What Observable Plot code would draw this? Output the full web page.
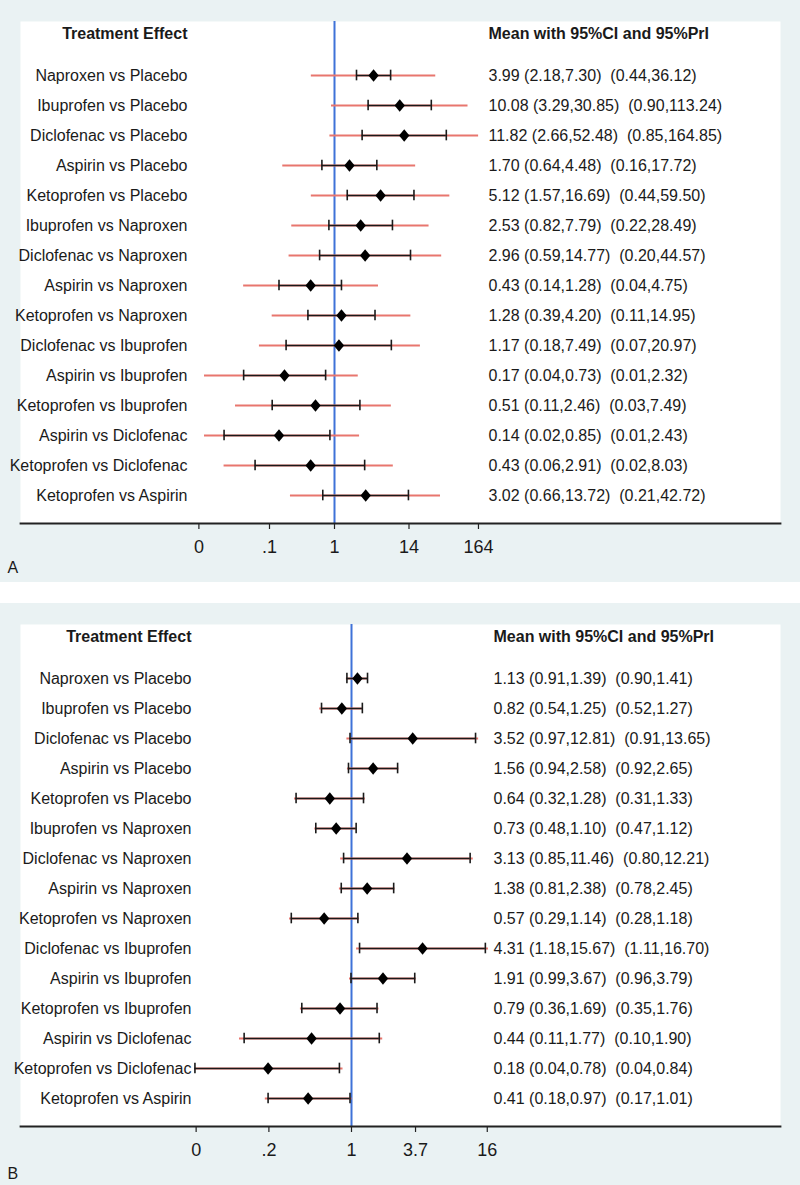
<!DOCTYPE html>
<html>
<head>
<meta charset="utf-8">
<script src="https://cdn.jsdelivr.net/npm/d3@7"></script>
<script src="https://cdn.jsdelivr.net/npm/@observablehq/plot@0.6"></script>
<style>
  body { margin: 0; background: #ffffff; }
  #wrap { width: 800px; }
  .gap { height: 21px; background: #ffffff; }
  svg { display: block; }
</style>
</head>
<body>
<div id="wrap">
  <div id="panelA"></div>
  <div class="gap"></div>
  <div id="panelB"></div>
</div>
<script>
// ---- Data ----
const comparisons = [
  "Naproxen vs Placebo", "Ibuprofen vs Placebo", "Diclofenac vs Placebo",
  "Aspirin vs Placebo", "Ketoprofen vs Placebo", "Ibuprofen vs Naproxen",
  "Diclofenac vs Naproxen", "Aspirin vs Naproxen", "Ketoprofen vs Naproxen",
  "Diclofenac vs Ibuprofen", "Aspirin vs Ibuprofen", "Ketoprofen vs Ibuprofen",
  "Aspirin vs Diclofenac", "Ketoprofen vs Diclofenac", "Ketoprofen vs Aspirin"
];

// Panel A
const meanA = [3.99, 10.08, 11.82, 1.70, 5.12, 2.53, 2.96, 0.43, 1.28, 1.17, 0.17, 0.51, 0.14, 0.43, 3.02];
const ciLoA = [2.18, 3.29, 2.66, 0.64, 1.57, 0.82, 0.59, 0.14, 0.39, 0.18, 0.04, 0.11, 0.02, 0.06, 0.66];
const ciHiA = [7.30, 30.85, 52.48, 4.48, 16.69, 7.79, 14.77, 1.28, 4.20, 7.49, 0.73, 2.46, 0.85, 2.91, 13.72];
const prLoA = [0.44, 0.90, 0.85, 0.16, 0.44, 0.22, 0.20, 0.04, 0.11, 0.07, 0.01, 0.03, 0.01, 0.02, 0.21];
const prHiA = [36.12, 113.24, 164.85, 17.72, 59.50, 28.49, 44.57, 4.75, 14.95, 20.97, 2.32, 7.49, 2.43, 8.03, 42.72];
const ticksA = [0.0082, 0.1, 1, 14, 164];
const tickLabelsA = ["0", ".1", "1", "14", "164"];

// Panel B
const meanB = [1.13, 0.82, 3.52, 1.56, 0.64, 0.73, 3.13, 1.38, 0.57, 4.31, 1.91, 0.79, 0.44, 0.18, 0.41];
const ciLoB = [0.91, 0.54, 0.97, 0.94, 0.32, 0.48, 0.85, 0.81, 0.29, 1.18, 0.99, 0.36, 0.11, 0.04, 0.18];
const ciHiB = [1.39, 1.25, 12.81, 2.58, 1.28, 1.10, 11.46, 2.38, 1.14, 15.67, 3.67, 1.69, 1.77, 0.78, 0.97];
const prLoB = [0.90, 0.52, 0.91, 0.92, 0.31, 0.47, 0.80, 0.78, 0.28, 1.11, 0.96, 0.35, 0.10, 0.04, 0.17];
const prHiB = [1.41, 1.27, 13.65, 2.65, 1.33, 1.12, 12.21, 2.45, 1.18, 16.70, 3.79, 1.76, 1.90, 0.84, 1.01];
const ticksB = [0.041, 0.183, 1, 3.73, 16.3];
const tickLabelsB = ["0", ".2", "1", "3.7", "16"];

const headerLeft = "Treatment Effect";
const headerRight = "Mean with 95%CI and 95%PrI";

// ---- Drawing ----
const FONT = "'Liberation Sans', Arial, Helvetica, sans-serif";
const BG = "#eaf2f3";
const RED = "#e8766e";
const BLUE = "#3f72d8";
const INK = "#1a1a1a";

const diamond = {
  draw(context, size) {
    const r = Math.sqrt(size / Math.PI);
    const w = r, h = r * 1.2;
    context.moveTo(0, -h);
    context.lineTo(w, 0);
    context.lineTo(0, h);
    context.lineTo(-w, 0);
    context.closePath();
  }
};

const f2 = (v) => v.toFixed(2);

function panel(opt) {
  const {mean, ciLo, ciHi, prLo, prHi, ticks, tickLabels, one, perDecade, labelRight, valueLeft, letter} = opt;
  const W = 800, H = 582, mL = 20, mR = 20, mT = 21, mB = 59;
  const firstRow = 72, lastRow = 497;
  const step = (lastRow - firstRow) / (comparisons.length - 1);
  const capInset = (step - 11) / 2;
  const rows = comparisons.map((name, i) => ({
    name, mean: mean[i], ciLo: ciLo[i], ciHi: ciHi[i], prLo: prLo[i], prHi: prHi[i],
    label: `${f2(mean[i])} (${f2(ciLo[i])},${f2(ciHi[i])})\u00a0 (${f2(prLo[i])},${f2(prHi[i])})`
  }));
  const tickRows = ticks.map((t, i) => ({value: t, label: tickLabels[i]}));
  return Plot.plot({
    width: W, height: H,
    marginLeft: mL, marginRight: mR, marginTop: mT, marginBottom: mB,
    style: {background: BG, fontFamily: FONT, fontSize: "16px", color: INK},
    x: {type: "log", domain: [10 ** ((mL - one) / perDecade), 10 ** ((W - mR - one) / perDecade)]},
    y: {type: "band", domain: comparisons, range: [firstRow - step / 2, lastRow + step / 2], padding: 0, axis: null},
    marks: [
      Plot.frame({fill: "white", stroke: "none"}),
      Plot.ruleX([1], {stroke: BLUE, strokeWidth: 2}),
      Plot.ruleY(rows, {y: "name", x1: "prLo", x2: "prHi", stroke: RED, strokeWidth: 2}),
      Plot.ruleY(rows, {y: "name", x1: "ciLo", x2: "ciHi", stroke: INK, strokeWidth: 1.6}),
      Plot.tickX(rows, {x: "ciLo", y: "name", stroke: INK, strokeWidth: 1.6, insetTop: capInset, insetBottom: capInset}),
      Plot.tickX(rows, {x: "ciHi", y: "name", stroke: INK, strokeWidth: 1.6, insetTop: capInset, insetBottom: capInset}),
      Plot.dot(rows, {x: "mean", y: "name", symbol: diamond, r: 5.2, fill: "black", stroke: "none"}),
      Plot.text(rows, {y: "name", text: "name", frameAnchor: "left", textAnchor: "end", dx: labelRight - mL, fontSize: 16, fill: INK}),
      Plot.text(rows, {y: "name", text: "label", frameAnchor: "left", textAnchor: "start", dx: valueLeft - mL, fontSize: 16, fill: INK}),
      Plot.text([headerLeft], {frameAnchor: "top-left", lineAnchor: "middle", textAnchor: "end", dx: labelRight - mL, dy: 12, fontSize: 16, fontWeight: "bold", fill: INK}),
      Plot.text([headerRight], {frameAnchor: "top-left", lineAnchor: "middle", textAnchor: "start", dx: valueLeft - mL, dy: 12, fontSize: 16, fontWeight: "bold", fill: INK}),
      Plot.frame({anchor: "bottom", stroke: "#222", strokeWidth: 1.8}),
      Plot.axisX({ticks, tickFormat: () => "", tickSize: 6, stroke: "#222", strokeWidth: 1.2}),
      Plot.text(tickRows, {x: "value", text: "label", frameAnchor: "bottom", lineAnchor: "middle", dy: 24, fontSize: 18, fill: INK}),
      Plot.text([letter], {frameAnchor: "bottom-left", lineAnchor: "middle", textAnchor: "start", dx: 7 - mL, dy: 44 + (letter === "B" ? 3 : 0), fontSize: 16, fill: INK})
    ]
  });
}

document.getElementById("panelA").appendChild(panel({
  mean: meanA, ciLo: ciLoA, ciHi: ciHiA, prLo: prLoA, prHi: prHiA,
  ticks: ticksA, tickLabels: tickLabelsA, one: 334, perDecade: 65,
  labelRight: 187, valueLeft: 488, letter: "A"
}));
document.getElementById("panelB").appendChild(panel({
  mean: meanB, ciLo: ciLoB, ciHi: ciHiB, prLo: prLoB, prHi: prHiB,
  ticks: ticksB, tickLabels: tickLabelsB, one: 351, perDecade: 112,
  labelRight: 191, valueLeft: 493, letter: "B"
}));
</script>
</body>
</html>
